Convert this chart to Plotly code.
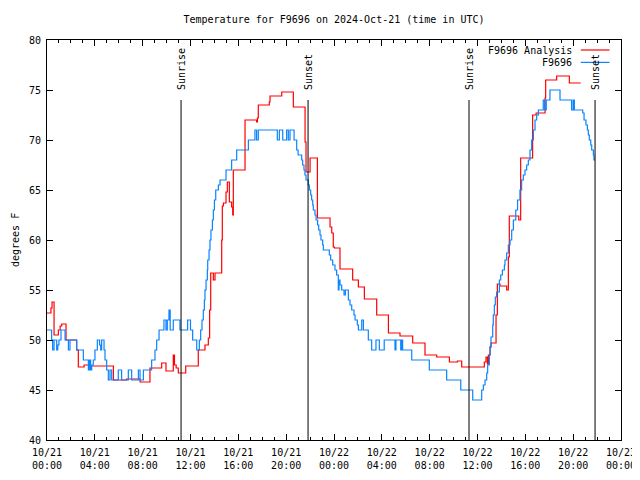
import plotly.graph_objects as go
import pandas as pd

BASE = pd.Timestamp("2024-10-21 00:00")

# Hours since 2024-10-21 00:00 UTC, step changes
analysis_hours = [0.0, 0.33, 0.42, 0.59, 0.95, 1.1, 1.23, 1.59, 2.48, 2.62, 3.1, 3.5,
                  5.55, 6.66, 7.78, 8.61, 9.59, 9.95, 10.56, 10.66, 10.8, 10.98, 11.6,
                  12.65, 13.21, 13.49, 13.6, 13.69, 13.91, 14.05, 14.61, 14.66, 14.75,
                  14.97, 15.08, 15.25, 15.44, 15.53, 15.58, 16.56, 17.53, 17.6, 17.67,
                  18.59, 18.65, 19.63, 20.6, 21.58, 21.66, 22.0, 22.61, 23.67, 23.81,
                  23.94, 24.03, 24.5, 25.56, 26.04, 26.54, 27.57, 28.55, 29.52, 30.58,
                  31.61, 32.59, 33.65, 34.32, 34.68, 36.57, 36.71, 36.83, 36.91, 37.05,
                  37.13, 37.55, 37.66, 37.88, 38.44, 38.58, 38.66, 39.45, 39.61, 40.61,
                  40.9, 41.65, 41.7, 42.62, 43.68, 44.63]
analysis_temp = [52.7, 53.2, 53.8, 50.5, 51.0, 51.4, 51.6, 50.0, 49.0, 47.3, 47.5, 47.4,
                 46.0, 46.1, 45.8, 47.2, 47.7, 46.9, 48.5, 47.5, 47.2, 46.7, 47.4,
                 49.0, 49.5, 50.2, 53.0, 56.7, 56.0, 56.7, 60.0, 63.4, 63.7,
                 64.8, 65.8, 63.8, 63.3, 62.5, 67.0, 72.0, 71.8, 72.2, 73.5,
                 73.8, 74.4, 74.8, 73.3, 69.8, 66.8, 68.2, 62.2, 61.3, 60.7,
                 59.3, 59.2, 57.1, 56.0, 55.3, 54.1, 52.5, 50.7, 50.4, 49.7,
                 48.5, 48.3, 47.8, 47.9, 47.3, 47.8, 48.3, 47.6, 48.5, 49.3,
                 49.7, 52.5, 55.6, 55.4, 55.0, 58.3, 62.4, 62.0, 68.2, 72.5,
                 72.7, 74.2, 76.0, 76.4, 75.7, 75.7]

obs_hours = [0.0, 0.39, 0.47, 0.59, 0.81, 0.9, 1.0, 1.17, 1.51, 1.79, 1.92, 2.48, 3.04,
             3.46, 3.55, 3.65, 3.74, 3.87, 4.01, 4.21, 4.4, 4.49, 4.57, 4.77, 4.85,
             4.99, 5.13, 5.27, 5.41, 5.96, 6.24, 6.8, 7.08, 7.64, 7.78, 8.06, 8.75,
             9.03, 9.17, 9.37, 9.78, 9.95, 10.06, 10.2, 10.3, 10.56, 11.12, 11.76,
             12.0, 12.18, 12.52, 12.74, 12.85, 12.96, 13.07, 13.16, 13.21, 13.3,
             13.41, 13.44, 13.55, 13.63, 13.71, 13.83, 13.91, 14.0, 14.11, 14.33,
             14.47, 14.97, 15.44, 15.86, 16.84, 17.39, 17.53, 17.67, 19.26, 19.43,
             19.71, 20.04, 20.18, 20.32, 20.66, 20.88, 21.0, 21.3, 21.38, 21.49,
             21.57, 21.66, 21.85, 21.94, 22.05, 22.13, 22.22, 22.27, 22.41, 22.5,
             22.63, 22.72, 22.83, 22.91, 23.05, 23.11, 23.61, 23.72, 23.89, 24.08,
             24.22, 24.36, 24.42, 24.5, 24.64, 24.84, 24.95, 25.2, 25.34, 25.48,
             25.67, 25.76, 25.95, 26.04, 26.32, 26.46, 26.87, 27.15, 27.51, 27.79,
             28.2, 29.1, 29.18, 29.58, 29.66, 29.74, 30.5, 31.97, 33.42, 34.6, 35.6,
             36.35, 36.49, 36.63, 36.77, 36.85, 36.99, 37.05, 37.13, 37.27, 37.32,
             37.41, 37.49, 37.6, 37.83, 37.94, 38.08, 38.25, 38.3, 38.44, 38.58,
             38.72, 38.86, 39.0, 39.2, 39.35, 39.55, 39.69, 39.83, 39.97, 40.11,
             40.25, 40.39, 40.53, 40.67, 40.81, 40.95, 41.09, 41.5, 41.62, 41.75,
             42.06, 42.9, 43.87, 44.0, 44.1, 44.8, 44.91, 45.07, 45.19, 45.27,
             45.35, 45.47, 45.55, 45.69, 45.74, 45.83]
obs_temp = [51, 50, 49, 50, 49, 49.5, 50, 51, 50, 49, 50, 49, 48,
            47, 48, 47, 47.5, 48, 49, 50, 49.5, 49, 50, 49, 48,
            47, 46, 47, 46, 47, 46, 47, 46, 47, 46, 47, 48,
            49, 50, 51, 52, 51, 52, 53, 51, 52, 51, 52,
            51, 50, 49, 50, 51, 52, 53, 54, 55, 56,
            57, 58, 59, 60, 61, 62, 63, 64, 65, 65.5,
            66, 67, 68, 69, 70, 71, 70, 71, 70, 71,
            70, 71, 70, 71, 70, 69, 68.5, 68, 67.5, 67,
            66.5, 66, 65.5, 65, 64.5, 64, 63.5, 63, 62.5, 62,
            61.5, 61, 60.5, 60, 59.5, 59, 58.5, 58, 57.5, 57,
            56.5, 55, 56, 55.5, 55, 54.5, 55, 54, 53.5, 53,
            52.5, 52, 51.5, 51, 52, 51, 50, 49, 50, 49,
            50, 49, 50, 49, 50, 49, 48, 47, 46, 45, 44,
            45, 45.5, 46, 46.7, 47.5, 48.5, 49.3, 50.3, 51.5, 52.5,
            53.5, 54.3, 54.8, 56, 56.5, 57, 57.5, 58, 58.7, 59.5,
            60, 61, 62, 63, 64, 65, 66, 66.5, 67, 67.5,
            68, 69, 70, 71, 72, 72.5, 73, 74, 73, 74,
            75, 74, 73, 74, 73, 72.7, 72, 71.5, 71, 70.5,
            70, 69.5, 69, 68.5, 68, 68]

sun_event_hours = [11.21, 21.83, 35.29, 45.83]
sun_event_labels = ["Sunrise", "Sunset", "Sunrise", "Sunset"]

series_names = ["F9696 Analysis", "F9696"]
series_colors = ["#ff0000", "#0a84ff"]

FONT = "DejaVu Sans Mono"


def to_time(hours):
    return BASE + pd.to_timedelta(hours, unit="h")


fig = go.Figure()
fig.add_trace(go.Scatter(x=to_time(analysis_hours), y=analysis_temp, mode="lines",
                         line=dict(color=series_colors[0], width=1.2, shape="hv"),
                         name=series_names[0], showlegend=False))
fig.add_trace(go.Scatter(x=to_time(obs_hours), y=obs_temp, mode="lines",
                         line=dict(color=series_colors[1], width=1.2, shape="hv"),
                         name=series_names[1], showlegend=False))

shapes = []
annotations = []
for h, lab in zip(sun_event_hours, sun_event_labels):
    t = to_time(h)
    shapes.append(dict(type="line", xref="x", yref="paper", x0=t, x1=t, y0=0, y1=0.85,
                       line=dict(color="black", width=1)))
    annotations.append(dict(x=t, y=0.87, xref="x", yref="paper", text=lab,
                            textangle=-90, showarrow=False, xanchor="center",
                            yanchor="bottom", font=dict(family=FONT, size=10, color="black")))

# legend (text right-aligned, sample line to the right, as in the reference)
for name, color, yy in zip(series_names, series_colors, [0.975, 0.944]):
    annotations.append(dict(x=0.918, y=yy, xref="paper", yref="paper", text=name,
                            showarrow=False, xanchor="right", yanchor="middle",
                            font=dict(family=FONT, size=10, color="black")))
    shapes.append(dict(type="line", xref="paper", yref="paper", x0=0.93, x1=0.98,
                       y0=yy, y1=yy, line=dict(color=color, width=1.2)))

annotations.append(dict(x=0, y=0.5, xref="paper", yref="paper", text="degrees F",
                        textangle=-90, showarrow=False, xanchor="center", yanchor="middle",
                        xshift=-32, font=dict(family=FONT, size=10, color="black")))

# the page body adds an 8px offset, so the figure is sized to fill the rest of the window
fig.update_layout(
    width=632, height=472,
    margin=dict(l=39, r=19, t=32, b=40, autoexpand=False),
    paper_bgcolor="white", plot_bgcolor="white",
    font=dict(family=FONT, size=10, color="black"),
    title=dict(text="Temperature for F9696 on 2024-Oct-21 (time in UTC)",
               x=0.5, xref="paper", y=1 - 11 / 472, yref="container",
               xanchor="center", yanchor="middle",
               font=dict(family=FONT, size=10, color="black")),
    shapes=shapes, annotations=annotations,
)
fig.update_xaxes(range=[to_time(0), to_time(48)], type="date", automargin=False,
                 tick0=to_time(0), dtick=4 * 3600 * 1000, tickformat="%m/%d<br>%H:%M",
                 ticks="inside", ticklen=6, tickcolor="black", ticklabelstandoff=3,
                 showline=True, linecolor="black", linewidth=1, mirror="allticks",
                 showgrid=False, zeroline=False,
                 minor=dict(dtick=3600 * 1000, ticks="inside", ticklen=3, tickcolor="black"))
fig.update_yaxes(range=[40, 80], dtick=5, tick0=40, automargin=False,
                 ticks="inside", ticklen=6, tickcolor="black", ticklabelstandoff=3,
                 showline=True, linecolor="black", linewidth=1, mirror="allticks",
                 showgrid=False, zeroline=False)

fig.write_html("out.html")
